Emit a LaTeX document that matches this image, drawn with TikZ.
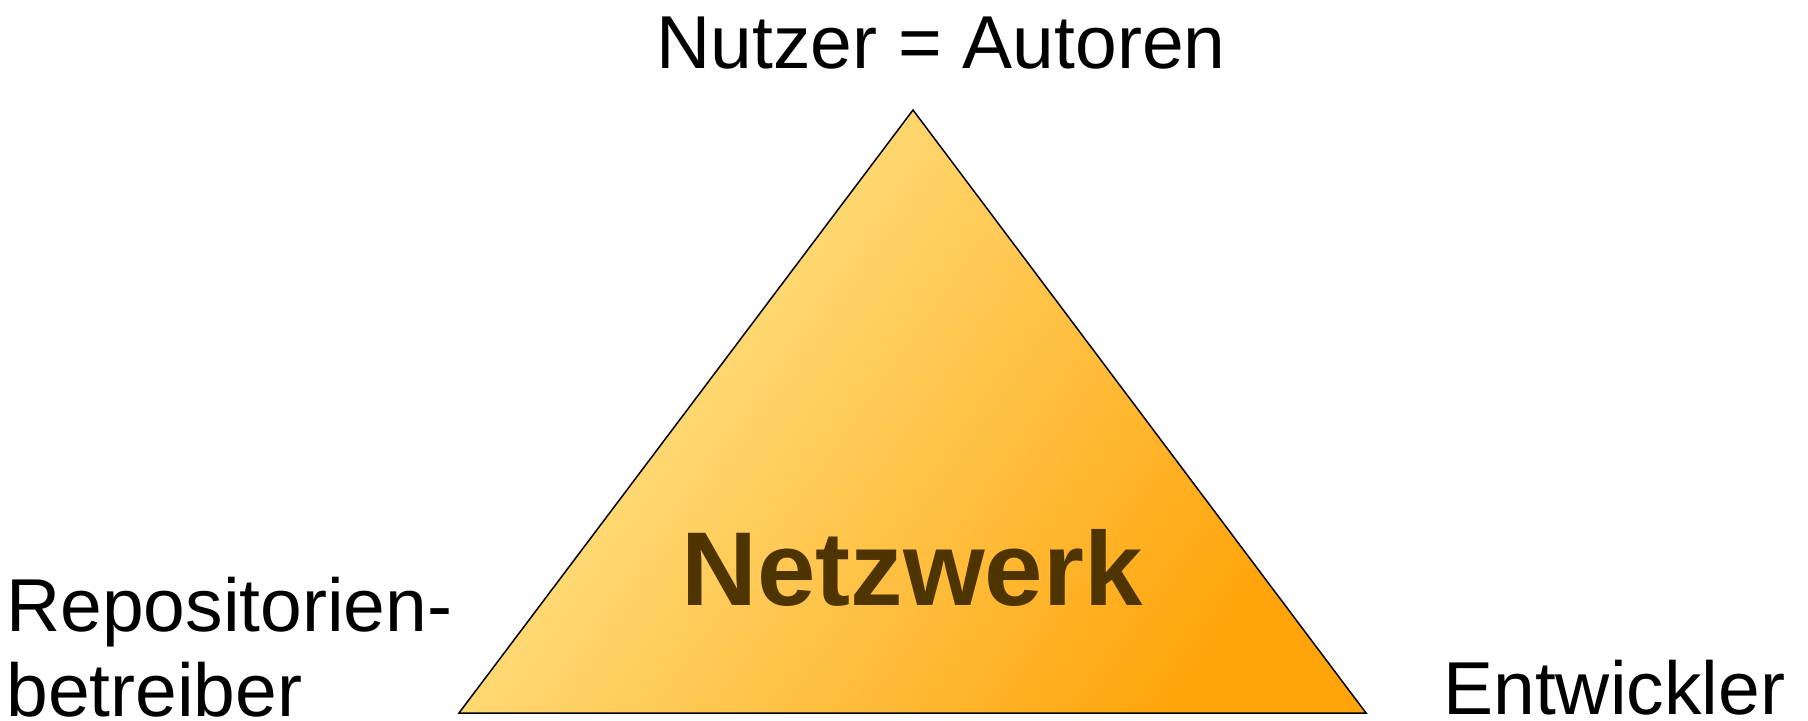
\documentclass[tikz,border=0pt]{standalone}
\usepackage{fontspec}
\setmainfont{Liberation Sans}
\usetikzlibrary{positioning}
\definecolor{netzlight}{RGB}{255,234,150}
\definecolor{netzdark}{RGB}{255,164,10}
\definecolor{netztext}{RGB}{77,52,0}
\tikzset{
    role/.style={inner sep=0pt,font=\fontsize{37.5}{42.5}\selectfont},
    hub/.style={inner sep=0pt,text=netztext,font=\fontsize{52.5}{60}\selectfont\bfseries},
    side/.style={draw=black,line width=0.75pt,line join=miter}
}

\begin{document}
\begin{tikzpicture}[x=0.5pt,y=-0.5pt]
    \useasboundingbox (0,0) rectangle (1808,721);

    \coordinate (top)   at (913,110);
    \coordinate (left)  at (459,713);
    \coordinate (right) at (1366,713);

    \shade[side,left color=netzlight,right color=netzdark,shading angle=55]
        (top) -- (left) -- (right) -- cycle;

    \node[hub]  (netz)    [anchor=base] at (912,605) {Netzwerk};

    \node[role] (nutzer)  [anchor=base] at (941,69)  {Nutzer = Autoren};
    \node[role] (repo)    [anchor=base west,align=left] at (6,716) {Repositorien-\\betreiber};
    \node[role] (entw)    [anchor=base west] at (1443,714) {Entwickler};

\end{tikzpicture}
\end{document}
